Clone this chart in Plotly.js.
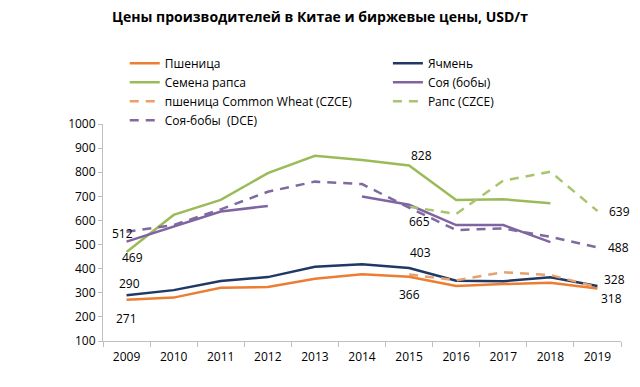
<!DOCTYPE html>
<html>
<head>
<meta charset="utf-8">
<script src="https://cdn.plot.ly/plotly-3.0.1.min.js"></script>
<style>html,body{margin:0;padding:0;background:#fff;}#chart{width:640px;height:387px;}</style>
</head>
<body>
<div id="chart"></div>
<script>
var years = ['2009','2010','2011','2012','2013','2014','2015','2016','2017','2018','2019'];
var wheat      = [271, 280, 321, 324, 358, 377, 366, 328, 336, 342, 318];
var barley     = [290, 311, 349, 365, 408, 418, 403, 350, 348, 364, 328];
var rapeseed   = [469, 623, 685, 796, 868, 851, 828, 685, 688, 671, null];
var soy        = [512, 574, 637, 660, null, 699, 665, 581, 581, 510, null];
var wheatCZCE  = [null, null, null, null, null, null, 376, 352, 385, 374, 323];
var rapeCZCE   = [null, null, null, null, null, null, 657, 627, 765, 802, 639];
var soyDCE     = [553, 581, 646, 719, 761, 751, 653, 560, 567, 532, 488];

var seriesNames = ['Пшеница', 'Ячмень', 'Семена рапса', 'Соя (бобы)',
  'пшеница Common Wheat (CZCE)', 'Рапс (CZCE)', 'Соя-бобы  (DCE)'];
var chartTitle = 'Цены производителей в Китае и биржевые цены, USD/т';

// value labels
var labelYears  = ['2009','2009','2009','2009','2015','2015','2015','2015','2019','2019','2019','2019'];
var labelValues = [512, 469, 290, 271, 828, 665, 403, 366, 639, 488, 328, 318];
var labelDX = [-4, 6, 3, 0, 12, 10, 11, 0, 22, 21, 17, 14];
var labelDY = [8, -5, 12, -19, 10, -17, 15, -18, 0, 0, 7, -10];

var FONT = 'Open Sans, Liberation Sans, sans-serif';
function tr(name, y, color, dash, leg) {
  return {x: years, y: y, name: name, type: 'scatter', mode: 'lines', legend: leg,
    connectgaps: false, line: {color: color, width: 2.5, dash: dash}};
}
var data = [
  tr(seriesNames[0], wheat, '#ED7D31', 'solid', 'legend'),
  tr(seriesNames[1], barley, '#1F3864', 'solid', 'legend2'),
  tr(seriesNames[2], rapeseed, '#9BBB59', 'solid', 'legend'),
  tr(seriesNames[3], soy, '#8064A2', 'solid', 'legend2'),
  tr(seriesNames[4], wheatCZCE, '#E8A06E', '9px,7px', 'legend'),
  tr(seriesNames[5], rapeCZCE, '#A9C46E', '9px,7px', 'legend2'),
  tr(seriesNames[6], soyDCE, '#7E6A9E', '9px,7px', 'legend')
];

var annotations = labelValues.map(function (v, i) {
  return {x: years.indexOf(labelYears[i]), y: v, xref: 'x', yref: 'y', text: String(v), showarrow: false,
    xshift: labelDX[i], yshift: labelDY[i], font: {family: FONT, size: 12, color: '#000000'}};
});

var legFont = {family: FONT, size: 12, color: '#000'};
var layout = {
  width: 640, height: 387,
  margin: {l: 103, r: 19, t: 124, b: 46},
  paper_bgcolor: '#fff', plot_bgcolor: '#fff',
  font: {family: FONT, size: 12, color: '#000'},
  title: {text: '<b>' + chartTitle + '</b>', x: 0.5, xanchor: 'center', y: 0.955, yanchor: 'middle',
    font: {family: FONT, size: 14, color: '#000'}},
  xaxis: {type: 'category', range: [-0.5, 10.5], showgrid: false, zeroline: false,
    showline: true, linecolor: '#BFBFBF', linewidth: 1,
    ticks: 'outside', tickson: 'boundaries', ticklen: 5, tickcolor: '#BFBFBF',
    ticklabelstandoff: 5,
    tickfont: {family: FONT, size: 12, color: '#000'}},
  yaxis: {range: [100, 1000], dtick: 100, showgrid: false, zeroline: false,
    showline: true, linecolor: '#BFBFBF', linewidth: 1,
    ticks: 'outside', ticklen: 4, tickcolor: '#BFBFBF',
    tickfont: {family: FONT, size: 12, color: '#000'}},
  showlegend: true,
  legend: {x: 0.042, xanchor: 'left', y: 1.347, yanchor: 'top', font: legFont,
    bgcolor: 'rgba(0,0,0,0)', tracegroupgap: 0},
  legend2: {x: 0.55, xanchor: 'left', y: 1.347, yanchor: 'top', font: legFont,
    bgcolor: 'rgba(0,0,0,0)', tracegroupgap: 0},
  annotations: annotations
};
Plotly.newPlot('chart', data, layout, {displayModeBar: false});
</script>
</body>
</html>
